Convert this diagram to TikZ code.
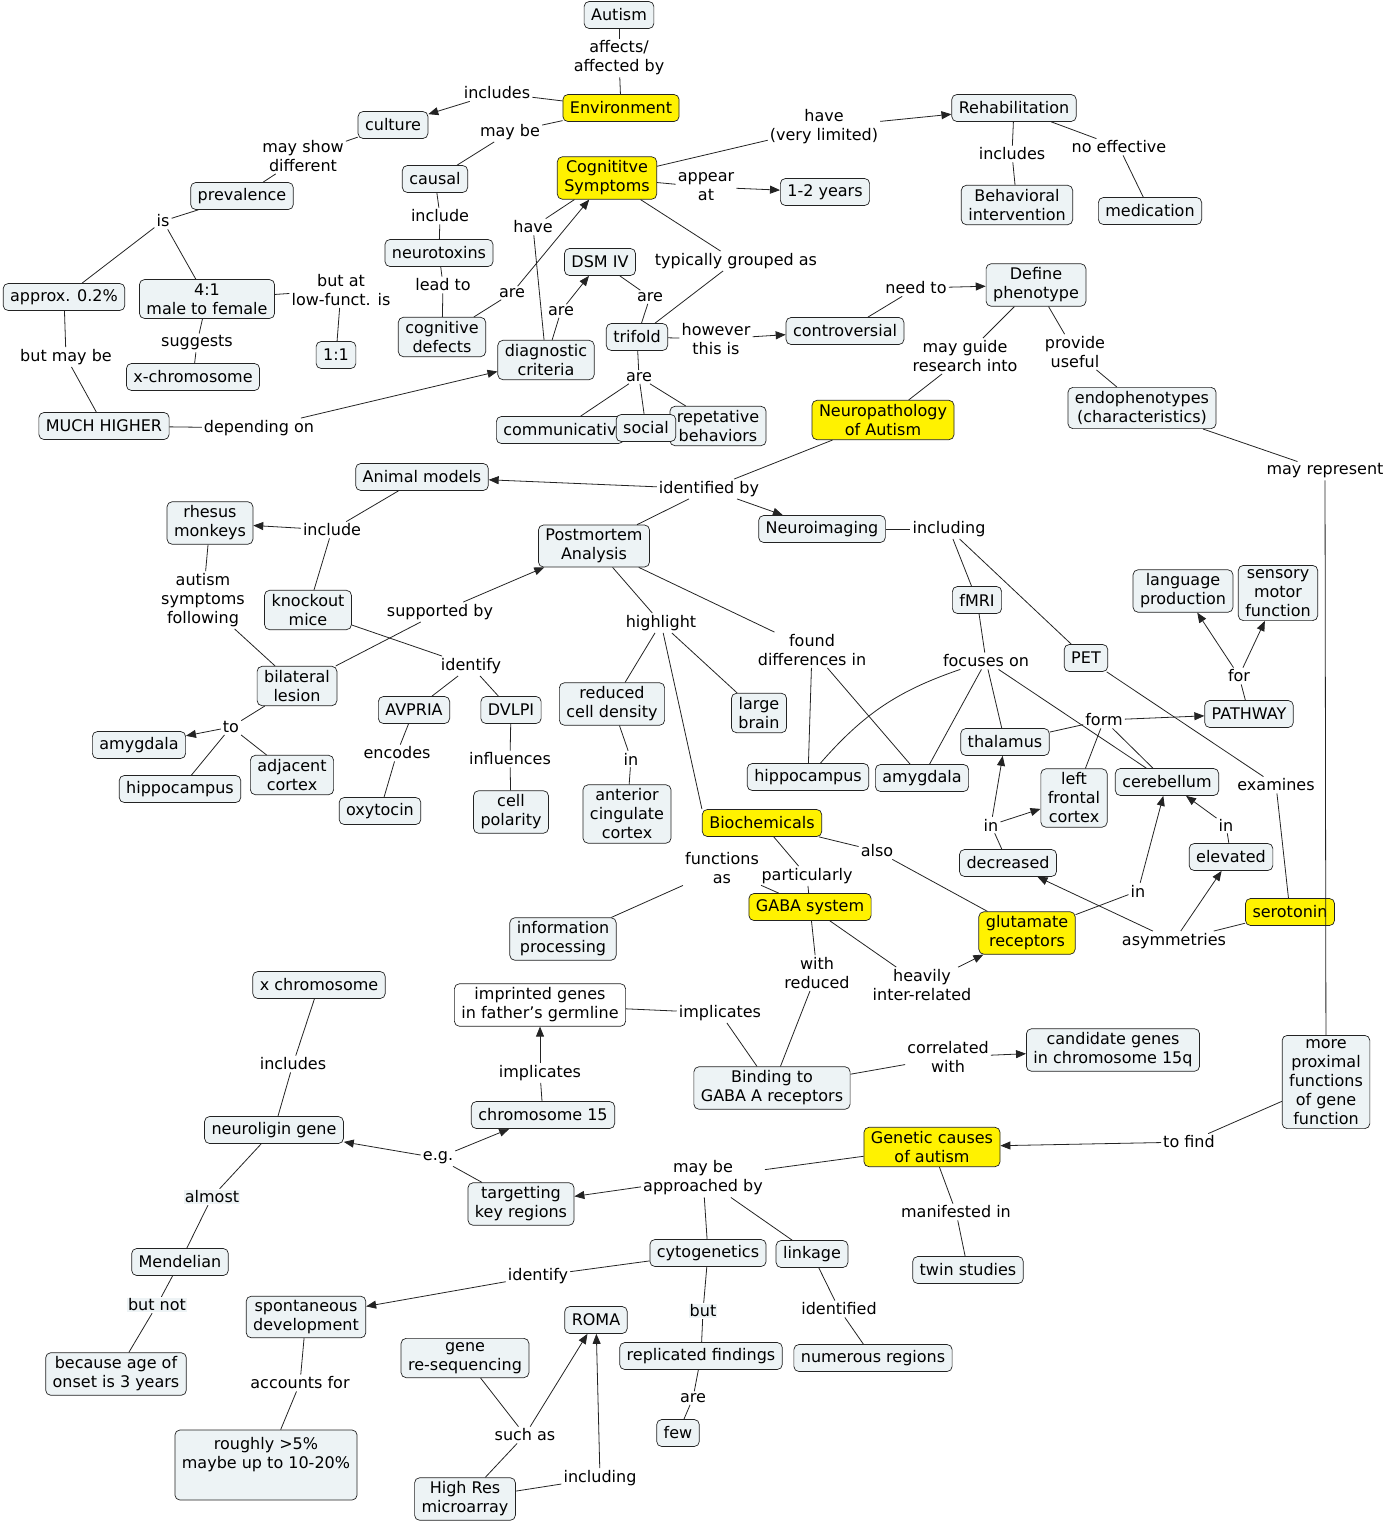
\documentclass[tikz,border=0pt]{standalone}
\usepackage{fontspec}
\setmainfont{DejaVu Sans}
\usepackage{tikz}
\usetikzlibrary{arrows.meta}
\definecolor{cfill}{RGB}{237,243,245}
\definecolor{cline}{RGB}{35,35,35}

\begin{document}
\begin{tikzpicture}[x=1pt, y=-1pt,
  box/.style={draw=cline, line width=0.7pt, fill=cfill, rounded corners=5pt, minimum height=27pt, inner xsep=7pt, inner ysep=4pt, align=center, font=\fontsize{16}{19}\selectfont},
  hot/.style={box, fill=yellow},
  lnk/.style={inner sep=2pt, align=center, font=\fontsize{16}{19}\selectfont},
  shd/.style={lnk, fill=cfill, inner sep=1pt, outer sep=1pt},
  ln/.style={draw=cline, line width=0.8pt},
  arr/.style={ln, -{Triangle[length=10pt,width=8pt]}}
]
\useasboundingbox (0,0) rectangle (1387,1527);
\node[box] (aut) at (619,15) {Autism};
\node[hot] (env) at (621,108) {Environment};
\node[box] (cult) at (393,125) {culture};
\node[box] (caus) at (435,179) {causal};
\node[hot] (cogs) at (607,178) {Cognititve\\Symptoms};
\node[box] (rehab) at (1014,108) {Rehabilitation};
\node[box] (yrs) at (825,192) {1-2 years};
\node[box] (behav) at (1017,205) {Behavioral\\intervention};
\node[box] (medic) at (1150,211) {medication};
\node[box] (prev) at (242,196) {prevalence};
\node[box] (ntox) at (439,253) {neurotoxins};
\node[box] (dsm) at (600,262) {DSM IV};
\node[box] (defph) at (1036,285) {Define\\phenotype};
\node[box] (appr) at (64,297) {approx. 0.2\%};
\node[box] (ratio) at (207,299) {4:1\\male to female};
\node[box] (one) at (336,355) {1:1};
\node[box] (cogd) at (442,337) {cognitive\\defects};
\node[box] (diag) at (546,360) {diagnostic\\criteria};
\node[box] (tri) at (637,337) {trifold};
\node[box] (contr) at (845,331) {controversial};
\node[box] (xch) at (193,377) {x-chromosome};
\node[box] (much) at (104,426) {MUCH HIGHER};
\node[box] (comm) at (560,430) {communicativ};
\node[box] (rep) at (718,426) {repetative\\behaviors};
\node[box] (soc) at (646,428) {social};
\node[hot] (neuro) at (883,420) {Neuropathology\\of Autism};
\node[box] (endo) at (1142,408) {endophenotypes\\(characteristics)};
\node[box] (anim) at (422,477) {Animal models};
\node[box] (rhes) at (210,523) {rhesus\\monkeys};
\node[box] (post) at (594,546) {Postmortem\\Analysis};
\node[box] (nimg) at (822,529) {Neuroimaging};
\node[box] (ko) at (308,610) {knockout\\mice};
\node[box] (lang) at (1183,591) {language\\production};
\node[box] (sens) at (1278,593) {sensory\\motor\\function};
\node[box] (fmri) at (977,600) {fMRI};
\node[box] (pet) at (1086,658) {PET};
\node[box] (bil) at (297,686) {bilateral\\lesion};
\node[box] (avp) at (414,710) {AVPRIA};
\node[box] (dvl) at (511,710) {DVLPI};
\node[box] (dens) at (612,704) {reduced\\cell density};
\node[box] (lbr) at (759,713) {large\\brain};
\node[box] (path) at (1249,714) {PATHWAY};
\node[box] (amyl) at (139,745) {amygdala};
\node[box] (thal) at (1005,742) {thalamus};
\node[box] (hipl) at (180,789) {hippocampus};
\node[box] (adj) at (292,775) {adjacent\\cortex};
\node[box] (hipr) at (808,777) {hippocampus};
\node[box] (amyr) at (922,778) {amygdala};
\node[box] (lfc) at (1074,798) {left\\frontal\\cortex};
\node[box] (cer) at (1167,782) {cerebellum};
\node[box] (oxy) at (380,811) {oxytocin};
\node[box] (pol) at (511,812) {cell\\polarity};
\node[box] (acc) at (627,814) {anterior\\cingulate\\cortex};
\node[hot] (bio) at (762,823) {Biochemicals};
\node[box] (decr) at (1008,863) {decreased};
\node[box] (elev) at (1231,857) {elevated};
\node[hot] (gaba) at (810,907) {GABA system};
\node[hot] (glut) at (1027,933) {glutamate\\receptors};
\node[hot] (sero) at (1290,912) {serotonin};
\node[box] (info) at (563,939) {information\\processing};
\node[box] (xchr) at (319,985) {x chromosome};
\node[box, fill=white] (impr) at (540,1005) {imprinted genes\\in father's germline};
\node[box] (cand) at (1113,1050) {candidate genes\\in chromosome 15q};
\node[box] (prox) at (1326,1082) {more\\proximal\\functions\\of gene\\function};
\node[box] (bind) at (772,1088) {Binding to\\GABA A receptors};
\node[box] (ch15) at (543,1115) {chromosome 15};
\node[box] (nlg) at (274,1130) {neuroligin gene};
\node[hot] (gen) at (932,1147) {Genetic causes\\of autism};
\node[box] (targ) at (521,1204) {targetting\\key regions};
\node[box] (mend) at (180,1262) {Mendelian};
\node[box] (cyto) at (708,1253) {cytogenetics};
\node[box] (link) at (812,1254) {linkage};
\node[box] (twin) at (968,1270) {twin studies};
\node[box] (spon) at (306,1317) {spontaneous\\development};
\node[box] (roma) at (596,1320) {ROMA};
\node[box] (reseq) at (465,1358) {gene\\re-sequencing};
\node[box] (repl) at (701,1356) {replicated findings};
\node[box] (numr) at (873,1358) {numerous regions};
\node[box] (onset) at (116,1374) {because age of\\onset is 3 years};
\node[box] (few) at (678,1433) {few};
\node[box, minimum height=70pt] (rough) at (266,1465) {roughly >5\%\\maybe up to 10-20\%\\ \strut};
\node[box] (hres) at (465,1499) {High Res\\microarray};

\node[lnk] (affby) at (619,58) {affects/\\affected by};
\node[lnk] (inclE) at (497,93) {includes};
\node[lnk] (maybe) at (510,132) {may be};
\node[lnk] (mshow) at (303,156) {may show\\different};
\node[lnk] (is) at (163,221) {is};
\node[lnk] (incl) at (440,216) {include};
\node[lnk] (lead) at (443,285) {lead to};
\node[lnk] (are1) at (512,293) {are};
\node[lnk] (have) at (533,227) {have};
\node[lnk] (are2) at (561,311) {are};
\node[lnk] (are3) at (650,297) {are};
\node[lnk] (tgrp) at (736,261) {typically grouped as};
\node[lnk] (appat) at (706,187) {appear\\at};
\node[lnk] (hvl) at (824,127) {have\\(very limited)};
\node[lnk] (inclR) at (1012,154) {includes};
\node[lnk] (noeff) at (1119,147) {no effective};
\node[lnk] (butat) at (341,290) {but at\\low-funct. is};
\node[lnk] (sugg) at (197,343) {suggests};
\node[lnk] (bmay) at (66,357) {but may be};
\node[lnk] (dep) at (259,428) {depending on};
\node[lnk] (howev) at (716,339) {however\\this is};
\node[lnk] (are4) at (639,377) {are};
\node[lnk] (need) at (916,288) {need to};
\node[lnk] (guide) at (965,356) {may guide\\research into};
\node[lnk] (prov) at (1075,352) {provide\\useful};
\node[lnk] (mrep) at (1325,471) {may represent};
\node[lnk] (idby) at (709,489) {identified by};
\node[lnk] (inclA) at (332,530) {include};
\node[lnk] (asf) at (203,600) {autism\\symptoms\\following};
\node[lnk] (supp) at (440,612) {supported by};
\node[lnk] (ident) at (471,666) {identify};
\node[lnk] (tol) at (231,727) {to};
\node[lnk] (enc) at (397,753) {encodes};
\node[lnk] (infl) at (510,759) {influences};
\node[lnk] (hlt) at (661,623) {highlight};
\node[lnk] (fdiff) at (812,650) {found\\differences in};
\node[lnk] (inA) at (631,759) {in};
\node[lnk] (incN) at (949,529) {including};
\node[lnk] (foc) at (986,661) {focuses on};
\node[lnk] (form) at (1104,720) {form};
\node[lnk] (forl) at (1239,676) {for};
\node[lnk] (exam) at (1276,785) {examines};
\node[lnk] (inD) at (991,825) {in};
\node[lnk] (inE) at (1226,825) {in};
\node[lnk] (asym) at (1174,941) {asymmetries};
\node[lnk] (inG) at (1138,891) {in};
\node[lnk] (also) at (877,851) {also};
\node[lnk] (part) at (807,876) {particularly};
\node[lnk] (fas) at (722,868) {functions\\as};
\node[lnk] (wred) at (817,973) {with\\reduced};
\node[lnk] (hvy) at (922,985) {heavily\\inter-related};
\node[lnk] (impl) at (720,1013) {implicates};
\node[lnk] (corr) at (948,1057) {correlated\\with};
\node[lnk] (inclX) at (293,1064) {includes};
\node[lnk] (impC) at (540,1073) {implicates};
\node[lnk] (eg) at (438,1158) {e.g.};
\node[lnk] (find) at (1189,1142) {to find};
\node[lnk] (appb) at (703,1178) {may be\\approached by};
\node[lnk] (manif) at (956,1212) {manifested in};
\node[shd] (almost) at (212,1197) {almost};
\node[shd] (bnot) at (157,1305) {but not};
\node[lnk] (idC) at (538,1276) {identify};
\node[shd] (but) at (703,1311) {but};
\node[lnk] (idfd) at (839,1309) {identified};
\node[lnk] (acc4) at (300,1383) {accounts for};
\node[lnk] (are5) at (693,1398) {are};
\node[lnk] (such) at (525,1435) {such as};
\node[lnk] (inclH) at (600,1478) {including};

\foreach \a/\b in {aut/affby, affby/env, env/inclE, env/maybe, maybe/caus, cult/mshow, mshow/prev, prev/is, is/appr, is/ratio,
  caus/incl, incl/ntox, ntox/lead, lead/cogd, cogd/are1, diag/have, have/cogs, diag/are2, dsm/are3, are3/tri,
  cogs/tgrp, tgrp/tri, cogs/appat, cogs/hvl, rehab/inclR, inclR/behav, rehab/noeff, noeff/medic, ratio/butat, butat/one,
  ratio/sugg, sugg/xch, appr/bmay, bmay/much, much/dep, tri/howev, tri/are4, are4/comm, are4/soc, are4/rep,
  contr/need, defph/guide, guide/neuro, defph/prov, prov/endo, endo/mrep, mrep/prox, neuro/idby, idby/post, anim/inclA,
  inclA/ko, rhes/asf, asf/bil, bil/supp, ko/ident, ident/avp, ident/dvl, bil/tol, tol/hipl, tol/adj,
  avp/enc, enc/oxy, dvl/infl, infl/pol, post/hlt, hlt/dens, hlt/lbr, post/fdiff, fdiff/hipr, fdiff/amyr,
  dens/inA, inA/acc, nimg/incN, incN/fmri, incN/pet, fmri/foc, foc/amyr, foc/thal, foc/cer, thal/form,
  lfc/form, cer/form, path/forl, pet/exam, exam/sero, decr/inD, elev/inE, sero/asym, glut/inG, bio/also,
  also/glut, bio/part, part/gaba, gaba/fas, fas/info, gaba/wred, wred/bind, gaba/hvy, bind/impl, impl/impr,
  bind/corr, xchr/inclX, inclX/nlg, ch15/impC, targ/eg, prox/find, gen/appb, appb/cyto, appb/link, gen/manif,
  manif/twin, nlg/almost, almost/mend, mend/bnot, bnot/onset, cyto/idC, cyto/but, but/repl, link/idfd, idfd/numr,
  spon/acc4, acc4/rough, repl/are5, are5/few, reseq/such, hres/such, hres/inclH}
  \draw[ln] (\a) -- (\b);
\draw[ln] (hlt) -- (bio.north west);
\draw[ln] (foc) to[bend right=15] (hipr);

\foreach \a/\b in {inclE/cult, are1/cogs, are2/dsm, appat/yrs, hvl/rehab, dep/diag, howev/contr, need/defph, idby/anim, idby/nimg,
  inclA/rhes, supp/post, tol/amyl, form/path, forl/lang, forl/sens, inD/thal, inD/lfc, inE/cer, asym/decr,
  asym/elev, inG/cer, hvy/glut, corr/cand, impC/impr, eg/nlg, eg/ch15, find/gen, appb/targ, idC/spon,
  such/roma, inclH/roma}
  \draw[arr] (\a) -- (\b);
\end{tikzpicture}
\end{document}
